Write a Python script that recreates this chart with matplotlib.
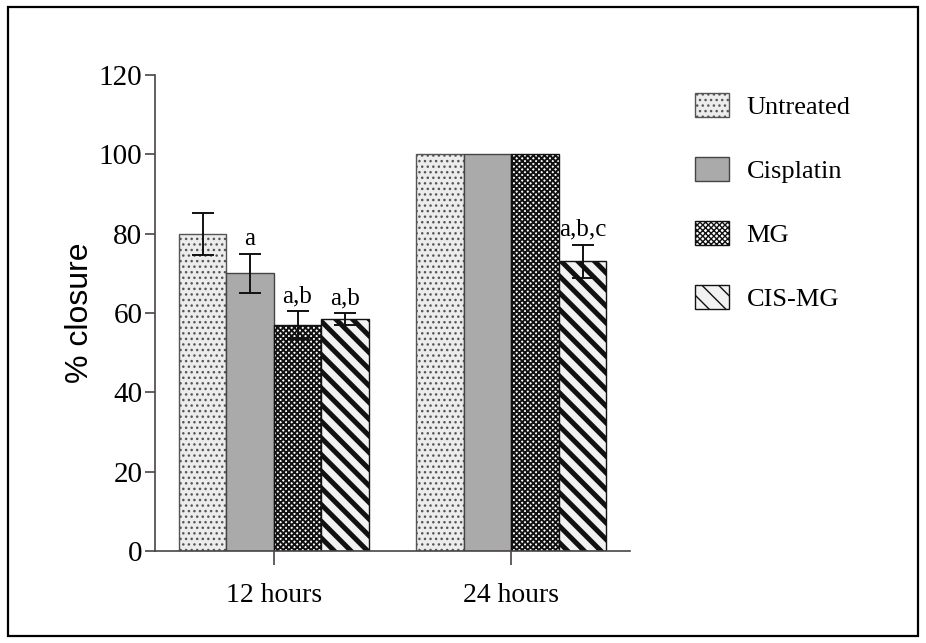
import matplotlib

matplotlib.use("Agg")
import matplotlib.pyplot as plt
import numpy as np
from matplotlib.patches import Rectangle

# Data
groups = ["12 hours", "24 hours"]
treatments = ["Untreated", "Cisplatin", "MG", "CIS-MG"]
untreated = [80, 100]
cisplatin = [70, 100]
mg = [57, 100]
cis_mg = [58.5, 73]
untreated_err = [5.3, 0]
cisplatin_err = [5, 0]
mg_err = [3.5, 0]
cis_mg_err = [1.5, 4.2]
letters_12h = ["", "a", "a,b", "a,b"]
letters_24h = ["", "", "", "a,b,c"]

plt.rcParams["font.family"] = ["Liberation Serif", "DejaVu Serif"]

fig = plt.figure(figsize=(9.26, 6.43), dpi=100)
ax = fig.add_axes([155 / 926, 1 - 551 / 643, 475 / 926, 476 / 643])

styles = [
    dict(facecolor="#ececec", edgecolor="#555555", hatch="...", hlw=1.0),
    dict(facecolor="#aaaaaa", edgecolor="#444444", hatch=None, hlw=1.0),
    dict(facecolor="white", edgecolor="#111111", hatch="xxxxxx", hlw=1.4),
    dict(facecolor="#f2f2f2", edgecolor="#111111", hatch="\\\\", hlw=3.6),
]

series = [untreated, cisplatin, mg, cis_mg]
errors = [untreated_err, cisplatin_err, mg_err, cis_mg_err]
x = np.arange(len(groups))
width = 0.2
offsets = (np.arange(len(treatments)) - 1.5) * width

handles = []
for i, (name, vals, errs, st) in enumerate(zip(treatments, series, errors, styles)):
    bars = ax.bar(x + offsets[i], vals, width, facecolor=st["facecolor"], edgecolor=st["edgecolor"],
                  hatch=st["hatch"], linewidth=1.0, label=name, zorder=2)
    for b in bars:
        if hasattr(b, "set_hatch_linewidth"):
            b.set_hatch_linewidth(st["hlw"])
    handles.append(bars)
    errs = np.array(errs)
    mask = errs > 0
    ax.errorbar((x + offsets[i])[mask], np.array(vals)[mask], yerr=errs[mask], fmt="none",
                ecolor="#111111", elinewidth=1.4, capsize=8, capthick=1.4, zorder=3)

# significance letters
for i in range(len(treatments)):
    for g, letters in enumerate([letters_12h, letters_24h]):
        if letters[i]:
            top = series[i][g] + errors[i][g]
            ax.text(x[g] + offsets[i], top + 1.0, letters[i], ha="center", va="bottom", fontsize=18)

ax.set_xlim(-0.5, 1.5)
ax.set_ylim(0, 120)
ax.set_yticks(np.arange(0, 121, 20))
ax.set_xticks(x)
ax.set_xticklabels(groups)
ax.spines["top"].set_visible(False)
ax.spines["right"].set_visible(False)
for s in ["left", "bottom"]:
    ax.spines[s].set_color("#4a4444")
    ax.spines[s].set_linewidth(1.2)
ax.tick_params(axis="y", length=7, width=1.2, color="#4a4444", labelsize=21, pad=2)
ax.tick_params(axis="x", length=10, width=1.2, color="#4a4444", labelsize=20, pad=13)
ax.set_ylabel("% closure", fontsize=23, family=["Liberation Sans", "DejaVu Sans"], labelpad=3)

leg = fig.legend(handles=handles, labels=treatments, loc="upper left", bbox_to_anchor=(695 / 926, 1 - 93 / 643),
                 frameon=False, fontsize=19, handlelength=1.3, handleheight=1.05, labelspacing=1.43,
                 handletextpad=0.65, borderpad=0, borderaxespad=0)

# outer frame around the whole figure
fig.patches.append(Rectangle((8 / 926, 7 / 643), 910 / 926, 629 / 643, transform=fig.transFigure,
                             fill=False, edgecolor="black", linewidth=1.6))

plt.savefig("out.png", dpi=100)
plt.close()
